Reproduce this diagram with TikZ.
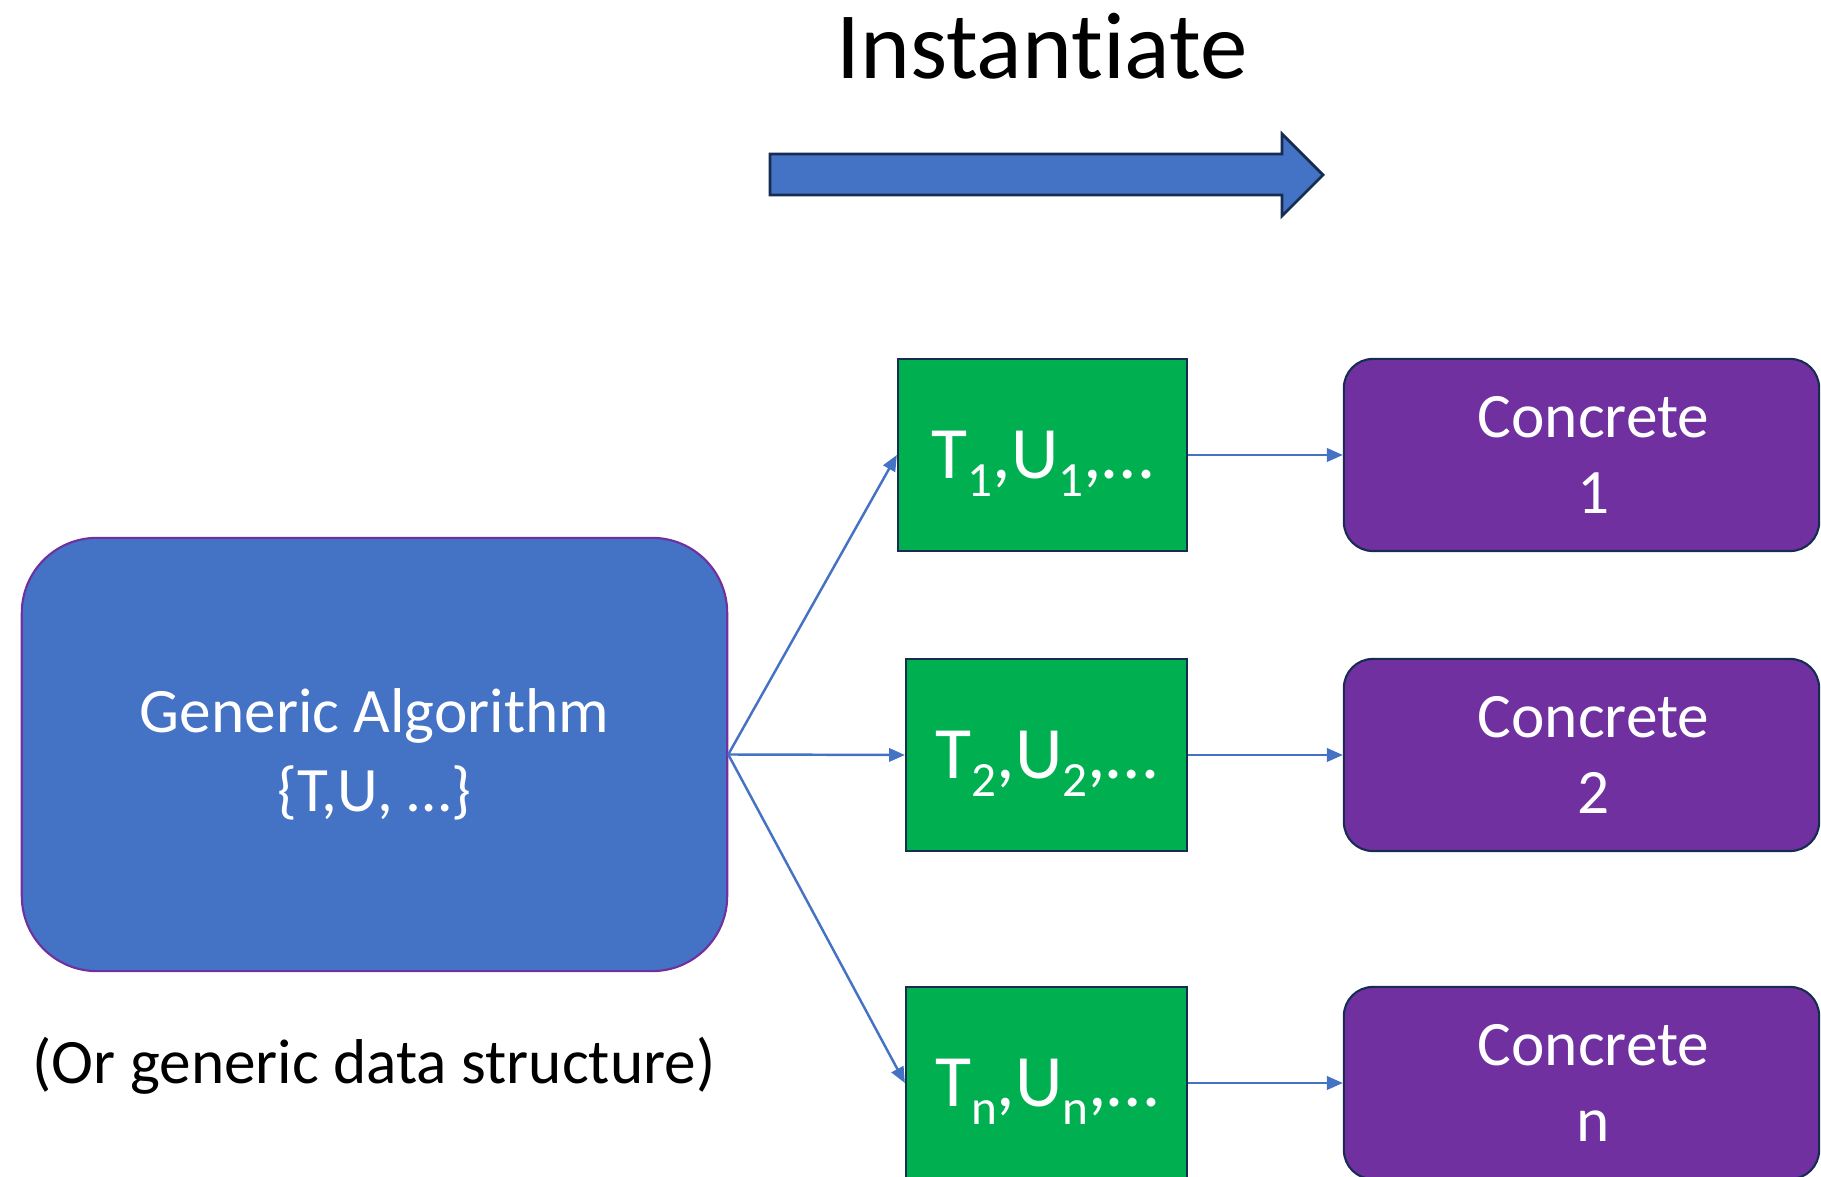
\documentclass[tikz,border=0pt]{standalone}
\usepackage{fontspec}
\setmainfont{Carlito}[RawFeature={-liga;-calt}]
\usepackage{tikz}
\usetikzlibrary{arrows.meta}
\definecolor{accblue}{HTML}{4472C4}
\definecolor{accgreen}{HTML}{00B050}
\definecolor{accpurple}{HTML}{7030A0}
\definecolor{edgenavy}{HTML}{172C51}
\newcommand{\tsub}[1]{\raisebox{-5pt}{\fontsize{14}{14}\selectfont #1}}

\begin{document}
\begin{tikzpicture}[x=0.01cm, y=-0.01cm,
  genbox/.style={draw=accpurple, line width=0.6pt, fill=accblue, text=white, rounded corners=0.75cm,
    minimum width=7.05cm, minimum height=4.33cm, inner sep=0pt, align=center, font=\fontsize{18}{22.5}\selectfont},
  typebox/.style={draw=edgenavy, line width=0.6pt, fill=accgreen, text=white, text depth=0pt,
    minimum height=1.92cm, inner sep=0pt, font=\fontsize{21}{24}\selectfont},
  concbox/.style={draw=edgenavy, line width=0.6pt, fill=accpurple, text=white, rounded corners=0.29cm,
    minimum width=4.75cm, minimum height=1.92cm, inner sep=0pt, align=center, font=\fontsize{18}{21.5}\selectfont},
  link/.style={accblue, line width=0.7pt, -{Triangle[length=4.5pt,width=3.8pt]}}]
\useasboundingbox (0,0) rectangle (1821,1177);
\clip (0,0) rectangle (1821,1177);
%
\node[anchor=base, font=\fontsize{27}{32}\selectfont] (title) at (1042,79) {Instantiate};
\draw [edgenavy, line width=0.8pt, fill=accblue] (770,154) -- (1282,154) -- (1282,134) -- (1323,175)
  -- (1282,216) -- (1282,195) -- (770,195) -- cycle;
%
\node[genbox] (gen) at (374.5,754.5) {Generic Algorithm\\\{T,U, …\}};
\node[font=\fontsize{18}{22}\selectfont] (note) at (374,1066) {(Or generic data structure)};
%
\node[typebox, minimum width=2.89cm] (g1) at (1042.5,455) {T\tsub{1},U\tsub{1},…};
\node[typebox, minimum width=2.81cm] (g2) at (1046.5,755) {T\tsub{2},U\tsub{2},…};
\node[typebox, minimum width=2.81cm] (gn) at (1046.5,1083) {T\tsub{n},U\tsub{n},…};
%
\node[concbox] (c1) at (1581.5,455) {\hspace*{0.24cm}Concrete\\\hspace*{0.24cm}1};
\node[concbox] (c2) at (1581.5,755) {\hspace*{0.24cm}Concrete\\\hspace*{0.24cm}2};
\node[concbox] (cn) at (1581.5,1083) {\hspace*{0.24cm}Concrete\\\hspace*{0.24cm}n};
%
\draw [link] (gen.east) -- (g1.west);
\draw [link] (gen.east) -- (g2.west);
\draw [link] (gen.east) -- (gn.west);
\draw [link] (g1.east) -- (c1.west);
\draw [link] (g2.east) -- (c2.west);
\draw [link] (gn.east) -- (cn.west);
%%%%%%%%%%%%%%%%%%%%%%%%%%%%%%%
\end{tikzpicture}
\end{document}
